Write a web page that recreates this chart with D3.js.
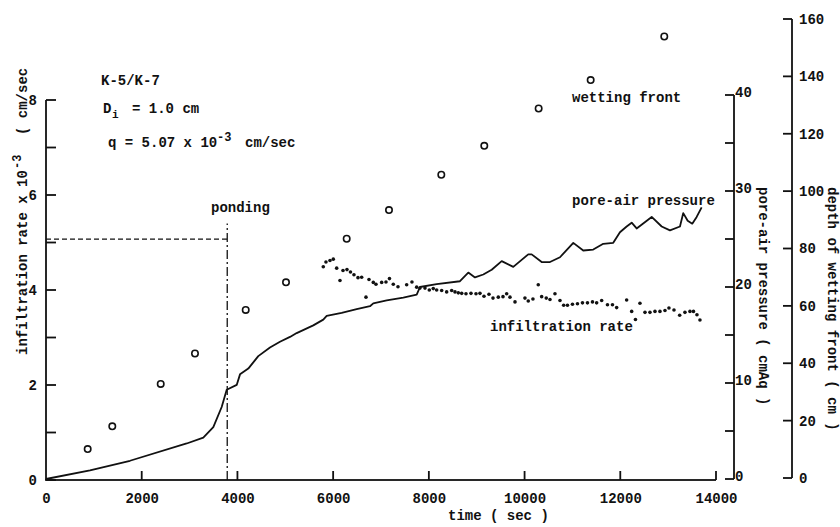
<!DOCTYPE html>
<html>
<head>
<meta charset="utf-8">
<script src="https://cdn.jsdelivr.net/npm/d3@7/dist/d3.min.js"></script>
<style>
  html, body { margin: 0; padding: 0; background: #fff; }
  svg text { font-family: "Liberation Mono", "DejaVu Sans Mono", monospace; font-weight: bold; fill: #111; }
</style>
</head>
<body>
<svg id="chart" width="840" height="527"></svg>
<script>
// Infiltration test K-5/K-7: rate, pore-air pressure and wetting-front depth vs time
const timeTicks = [0, 2000, 4000, 6000, 8000, 10000, 12000, 14000];
const rateTicks = [0, 2, 4, 6, 8];
const rateMinorTicks = [1, 3, 5, 7];
const pressureTicks = [0, 10, 20, 30, 40];
const pressureMinorTicks = [5, 15, 25, 35];
const depthTicks = [0, 20, 40, 60, 80, 100, 120, 140, 160];

const supplyRate = 5.07;       // q, x10^-3 cm/sec
const pondingTime = 3787;      // sec
const pondingTop = 5.4;

// wetting front depth (cm)
const frontTime  = [871, 1385, 2397, 3113, 4173, 5015, 6283, 7167, 8260, 9158, 10294, 11381, 12919];
const frontDepth = [10.1, 18.0, 32.8, 43.4, 58.6, 68.2, 83.4, 93.4, 105.7, 115.8, 128.8, 138.7, 153.9];

// pore-air pressure (cmAq)
const pressTime = [0, 919, 1755, 2940, 3287, 3496, 3671, 3776, 3985, 4054, 4227, 4436, 4680, 4889, 5098, 5238, 5585,
  5794, 5865, 6178, 6492, 6770, 6839, 7119, 7466, 7746, 7815, 8163, 8650, 8824, 8964, 9137, 9313, 9522, 9764,
  10077, 10148, 10357, 10531, 10740, 11018, 11226, 11435, 11644, 11853, 11993, 12133, 12238, 12342, 12656,
  12865, 13038, 13247, 13316, 13408, 13504, 13596, 13700];
const pressValue = [0, 0.9, 1.9, 3.7, 4.3, 5.4, 7.5, 9.3, 9.8, 10.9, 11.5, 12.8, 13.7, 14.3, 14.8, 15.2, 16.0,
  16.6, 17.0, 17.3, 17.7, 18.0, 18.3, 18.6, 18.9, 19.2, 20.0, 20.3, 20.6, 21.5, 21.0, 21.3, 21.8, 22.7, 22.1,
  23.4, 23.4, 22.6, 22.6, 23.1, 24.6, 23.8, 23.9, 24.5, 24.6, 25.7, 26.3, 26.7, 26.1, 27.3,
  26.3, 25.9, 26.3, 27.7, 26.9, 26.6, 27.3, 28.3];

// infiltration rate (x10^-3 cm/sec)
const rateTime = [5794, 5850, 5934, 6003, 6074, 6143, 6206, 6289, 6362, 6435, 6519, 6596, 6686, 6749, 6839, 6895,
  7014, 7104, 7177, 7257, 7355, 7536, 7647, 7745, 7814, 7919, 8009, 8092, 8163, 8268, 8372, 8477, 8546, 8615,
  8686, 8776, 8880, 8985, 9068, 9152, 9256, 9340, 9451, 9549, 9626, 9695, 9800, 10008, 10077, 10175, 10286,
  10357, 10453, 10531, 10635, 10740, 10817, 10896, 11001, 11105, 11210, 11314, 11419, 11506, 11611, 11732,
  11837, 11924, 12133, 12238, 12317, 12411, 12516, 12620, 12725, 12829, 12934, 13017, 13122, 13241, 13351,
  13456, 13529, 13602, 13665];
const rateValue = [4.49, 4.59, 4.62, 4.65, 4.46, 4.20, 4.41, 4.43, 4.38, 4.32, 4.26, 4.27, 3.85, 4.22, 4.16, 4.12,
  4.16, 4.17, 4.24, 4.12, 4.07, 4.11, 4.17, 4.06, 4.04, 4.04, 4.00, 4.03, 4.00, 3.99, 3.96, 3.99, 3.96, 3.94,
  3.93, 3.92, 3.93, 3.92, 3.93, 3.87, 3.91, 3.83, 3.85, 3.86, 3.92, 3.85, 3.75, 3.83, 3.77, 3.81, 4.11,
  3.86, 3.83, 3.80, 3.92, 3.78, 3.68, 3.68, 3.70, 3.71, 3.73, 3.73, 3.75, 3.73, 3.78, 3.69,
  3.69, 3.63, 3.79, 3.55, 3.38, 3.72, 3.53, 3.53, 3.55, 3.55, 3.57, 3.62, 3.58, 3.47, 3.53,
  3.55, 3.55, 3.48, 3.37];

const ink = "#111";
const svg = d3.select("#chart");

const x = d3.scaleLinear().domain([0, 14000]).range([46, 716]);
const yRate = d3.scaleLinear().domain([0, 8]).range([480, 100]);
const yPress = d3.scaleLinear().domain([0, 40]).range([479, 95]);
const yDepth = d3.scaleLinear().domain([0, 160]).range([478, 19]);

function styleAxis(g) {
  g.select(".domain").remove();
  g.selectAll(".tick line").remove();
  g.selectAll("text").attr("font-size", 14).attr("fill", ink);
}

// axis lines and ticks as thin filled bars, positioned by the scales
const rules = svg.append("g").attr("fill", ink);
const W = 1.8;
function vbar(xp, y1, y2) {
  rules.append("rect").attr("x", xp - W / 2).attr("y", Math.min(y1, y2)).attr("width", W).attr("height", Math.abs(y2 - y1));
}
function hbar(x1, x2, yp) {
  rules.append("rect").attr("x", Math.min(x1, x2)).attr("y", yp - W / 2).attr("width", Math.abs(x2 - x1)).attr("height", W);
}
// time axis with upward ticks
hbar(x(0) - W / 2, x(14000), yRate(0));
timeTicks.slice(1).forEach(t => vbar(x(t), yRate(0), yRate(0) - 9));
// infiltration rate axis with inward ticks
vbar(x(0), yRate(0), yRate(8));
rateTicks.concat(rateMinorTicks).forEach(v => hbar(x(0), x(0) + 10, yRate(v)));
// pore-air pressure axis
vbar(734, yPress(0), yPress(40));
pressureTicks.concat(pressureMinorTicks).forEach(v => hbar(725, 734, yPress(v)));
// wetting front depth axis
vbar(792, yDepth(0), yDepth(160));
depthTicks.forEach(v => hbar(783, 792, yDepth(v)));

// tick labels from d3 axes
svg.append("g")
  .attr("transform", "translate(0,480)")
  .call(d3.axisBottom(x).tickValues(timeTicks).tickSize(0).tickPadding(13).tickFormat(d3.format("d")))
  .call(styleAxis);
svg.append("g").attr("transform", "translate(46,0)")
  .call(d3.axisLeft(yRate).tickValues(rateTicks).tickSize(0).tickPadding(9).tickFormat(d3.format("d")))
  .call(styleAxis);
const pressAxis = svg.append("g").attr("transform", "translate(734,0)")
  .call(d3.axisRight(yPress).tickValues(pressureTicks).tickSize(0).tickPadding(1).tickFormat(d3.format("d")))
  .call(styleAxis);
pressAxis.selectAll(".tick text").attr("dy", "0.1em");
svg.append("g").attr("transform", "translate(792,0)")
  .call(d3.axisRight(yDepth).tickValues(depthTicks).tickSize(0).tickPadding(7).tickFormat(d3.format("d")))
  .call(styleAxis);

// supply rate and ponding markers
svg.append("line")
  .attr("x1", x(0)).attr("x2", x(pondingTime))
  .attr("y1", yRate(supplyRate)).attr("y2", yRate(supplyRate))
  .attr("stroke", ink).attr("stroke-width", 1.3).attr("stroke-dasharray", "5,3");
svg.append("line")
  .attr("x1", x(pondingTime)).attr("x2", x(pondingTime))
  .attr("y1", yRate(0)).attr("y2", yRate(pondingTop))
  .attr("stroke", ink).attr("stroke-width", 1.3).attr("stroke-dasharray", "9,3,2,3");

// pore-air pressure curve
const pressData = pressTime.map((t, i) => [t, pressValue[i]]);
svg.append("path")
  .datum(pressData)
  .attr("fill", "none").attr("stroke", ink).attr("stroke-width", 1.8).attr("stroke-linejoin", "round")
  .attr("d", d3.line().x(d => x(d[0])).y(d => yPress(d[1])));

// infiltration rate points
svg.append("g").selectAll("circle")
  .data(rateTime.map((t, i) => [t, rateValue[i]]))
  .enter().append("circle")
  .attr("cx", d => x(d[0])).attr("cy", d => yRate(d[1])).attr("r", 1.8)
  .attr("fill", ink);

// wetting front points
svg.append("g").selectAll("circle")
  .data(frontTime.map((t, i) => [t, frontDepth[i]]))
  .enter().append("circle")
  .attr("cx", d => x(d[0])).attr("cy", d => yDepth(d[1])).attr("r", 3.2)
  .attr("fill", "none").attr("stroke", ink).attr("stroke-width", 1.6);

// annotations
function label(txt, px, py, size) {
  return svg.append("text").attr("x", px).attr("y", py).attr("font-size", size || 14).text(txt);
}
label("K-5/K-7", 101, 85);
label("D", 103, 113);
label("i", 112, 118, 11);
label("= 1.0 cm", 132, 113);
label("q = 5.07 x 10", 108, 147);
label("-3", 217, 141, 12);
label("cm/sec", 245, 147);
label("ponding", 211, 212);
label("wetting front", 572, 102);
label("pore-air pressure", 572, 205);
label("infiltration rate", 490, 331);
label("time ( sec )", 448, 520);

// axis titles
const rateTitle = svg.append("g").attr("transform", "translate(27,355) rotate(-90)");
rateTitle.append("text").attr("x", 0).attr("y", 0).attr("font-size", 14).text("infiltration rate x 10");
rateTitle.append("text").attr("x", 186).attr("y", -6).attr("font-size", 12).text("-3");
rateTitle.append("text").attr("x", 220).attr("y", 0).attr("font-size", 14).text("( cm/sec");

svg.append("text").attr("transform", "translate(759,187) rotate(90)").attr("font-size", 14)
  .text("pore-air pressure ( cmAq )");
svg.append("text").attr("transform", "translate(828,187) rotate(90)").attr("font-size", 14)
  .text("depth of wetting front ( cm )");
</script>
</body>
</html>
